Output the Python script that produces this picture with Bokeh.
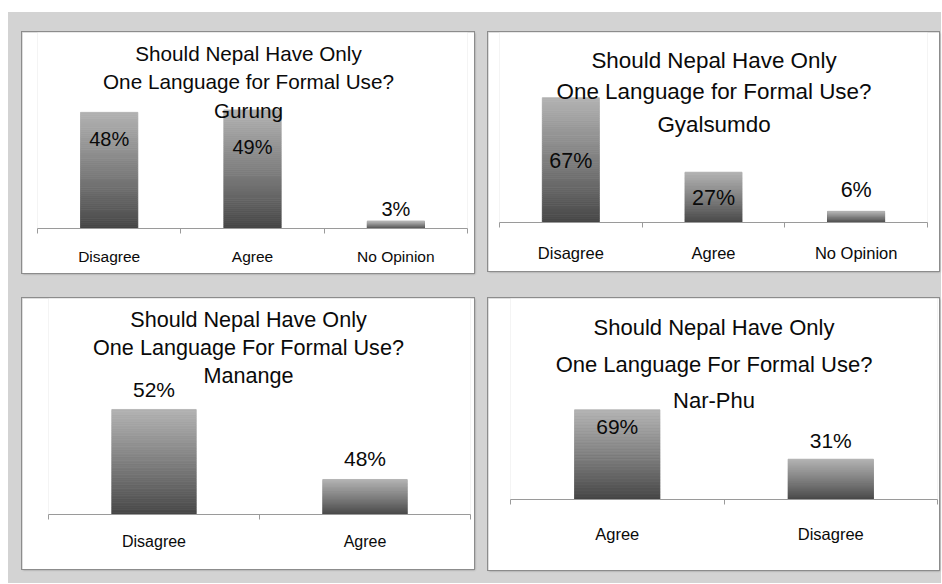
from bokeh.plotting import figure
from bokeh.models import ColumnDataSource, Range1d, LinearAxis, FixedTicker, Label, LabelSet, Spacer
from bokeh.layouts import row, column
from bokeh.embed import file_html
from bokeh.resources import INLINE
from bokeh.core.properties import value

# ---------------- data ----------------
gurung_cats = ["Disagree", "Agree", "No Opinion"]
gurung_vals = [48, 49, 3]
gurung_title = ["Should Nepal Have Only", "One Language for Formal Use?", "Gurung"]

gyalsumdo_cats = ["Disagree", "Agree", "No Opinion"]
gyalsumdo_vals = [67, 27, 6]
gyalsumdo_title = ["Should Nepal Have Only", "One Language for Formal Use?", "Gyalsumdo"]

manange_cats = ["Disagree", "Agree"]
manange_vals = [52, 48]
manange_title = ["Should Nepal Have Only", "One Language For Formal Use?", "Manange"]

narphu_cats = ["Agree", "Disagree"]
narphu_vals = [69, 31]
narphu_title = ["Should Nepal Have Only", "One Language For Formal Use?", "Nar-Phu"]

# ---------------- styles ----------------
BG = "#d3d3d3"
TXT = "#0a0a0a"
AXIS = "#9a9a9a"
TOP_C = (0xb2, 0xb2, 0xb2)
BOT_C = (0x44, 0x44, 0x44)
NBANDS = 60


def band_color(t):
    t = t ** 0.9
    c = [int(round(b + (a - b) * t)) for a, b in zip(TOP_C, BOT_C)]
    return "#%02x%02x%02x" % tuple(c)


def make_panel(cats, vals, title, w, h, borders, y_start, y_end, title_ys,
               title_size, val_size, modes, offsets, cat_size, cat_standoff):
    font = "Liberation Sans"
    left, right, top, bottom = borders
    n = len(cats)
    p = figure(width=w, height=h, x_range=Range1d(0, n), y_range=Range1d(y_start, y_end),
               output_backend="svg", toolbar_location=None,
               x_axis_location=None, y_axis_location=None,
               min_border_left=left, min_border_right=right,
               min_border_top=top, min_border_bottom=bottom,
               frame_align=False,
               background_fill_color="white", border_fill_color="white",
               styles={"outline": "1px solid #8c8c8c",
                       "box-shadow": "1px 1px 2px rgba(0,0,0,0.35)"})
    p.outline_line_color = None
    p.xgrid.visible = False
    p.ygrid.visible = False

    # gradient bars built from stacked bands
    xs, bots, tops, cols = [], [], [], []
    for i, v in enumerate(vals):
        for k in range(NBANDS):
            xs.append(i + 0.5)
            bots.append(y_start + (v - y_start) * k / NBANDS)
            tops.append(y_start + (v - y_start) * (k + 1) / NBANDS)
            cols.append(band_color((k + 0.5) / NBANDS))
    src = ColumnDataSource(dict(x=xs, bottom=bots, top=tops, color=cols))
    p.vbar(x="x", bottom="bottom", top="top", width=0.4, fill_color="color",
           line_color="color", line_width=0.8, source=src)

    # axis with boundary ticks (minor) and centered labels (major)
    centers = [i + 0.5 for i in range(n)]
    axis = LinearAxis(ticker=FixedTicker(ticks=centers, minor_ticks=list(range(n + 1))),
                      major_label_overrides={c: cat for c, cat in zip(centers, cats)},
                      major_tick_in=0, major_tick_out=0,
                      minor_tick_in=0, minor_tick_out=5,
                      axis_line_color=AXIS, minor_tick_line_color=AXIS,
                      major_tick_line_color=None,
                      major_label_text_font=font,
                      major_label_text_font_size=f"{cat_size}px",
                      major_label_text_color=TXT,
                      major_label_standoff=cat_standoff)
    p.add_layout(axis, "below")

    # value labels
    ly = [v if m == "end" else (v + y_start) / 2 for v, m in zip(vals, modes)]
    lsrc = ColumnDataSource(dict(x=centers, y=ly, off=offsets,
                                 text=[f"{v}%" for v in vals]))
    p.add_layout(LabelSet(x="x", y="y", y_offset="off", text="text", source=lsrc,
                          text_align="center", text_baseline="middle",
                          text_font=value(font), text_font_size=f"{val_size}px",
                          text_color=TXT))

    # title lines (inside the frame so they can overlap bars)
    cx = w / 2 - left
    for line, ty in zip(title, title_ys):
        p.add_layout(Label(x=cx, y=ty, x_units="screen", y_units="screen", text=line,
                           text_align="center", text_baseline="middle",
                           text_font=font, text_font_size=f"{title_size}px",
                           text_color=TXT))
    return p


p1 = make_panel(gurung_cats, gurung_vals, gurung_title, 452, 241, (15, 7, 0, 45),
                0, 81, [175, 147, 118], 20.7, 20, ["end", "end", "end"],
                [-27, -37, 12], 15.5, 14)
p2 = make_panel(gyalsumdo_cats, gyalsumdo_vals, gyalsumdo_title, 451, 239, (11, 12, 0, 49),
                0, 102, [162, 131, 98], 22.4, 21.5, ["center", "center", "end"],
                [-1, -1, 21], 16.5, 16)
p3 = make_panel(manange_cats, manange_vals, manange_title, 452, 271, (26, 4, 0, 55),
                46, 58.34, [195, 167, 139], 21.6, 21, ["end", "end"],
                [20, 21], 16, 13)
p4 = make_panel(narphu_cats, narphu_vals, narphu_title, 451, 272, (22, 2, 0, 71),
                0, 154.6, [172, 135, 99], 22, 21, ["end", "end"],
                [-17, 19], 16.5, 20)

row1 = row(Spacer(width=14, height=241), p1, Spacer(width=14, height=241), p2,
           Spacer(width=2, height=241))
row2 = row(Spacer(width=14, height=272), p3, Spacer(width=14, height=272), p4,
           Spacer(width=2, height=272))
GW = 14 + 452 + 14 + 451 + 2
gray = column(Spacer(width=GW, height=20), row1, Spacer(width=GW, height=25), row2,
              Spacer(width=GW, height=13), styles={"background-color": BG})
layout = column(Spacer(width=GW + 8, height=12), row(Spacer(width=8, height=10), gray))

open("out.html", "w").write(file_html(layout, INLINE))
